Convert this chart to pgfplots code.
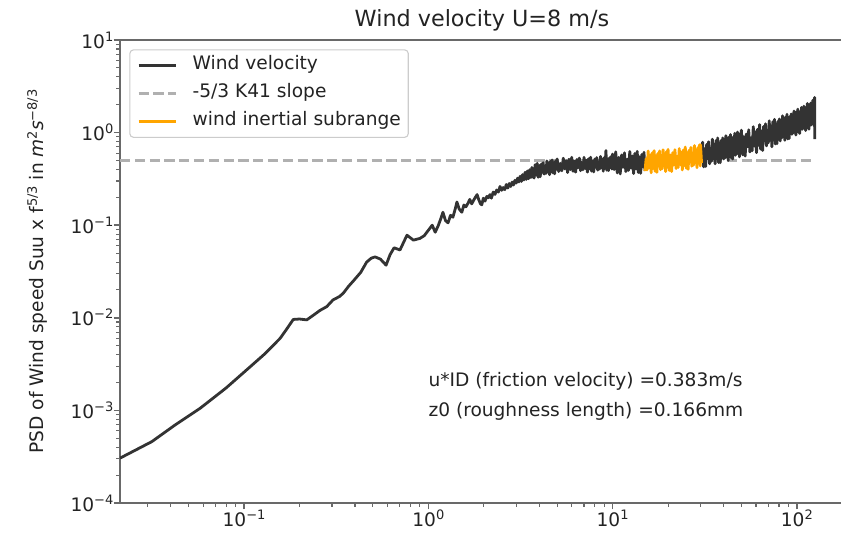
\documentclass[border=0pt]{standalone}
\usepackage{fontspec}
\setmainfont{DejaVu Sans}
\usepackage{pgfplots}
\pgfplotsset{compat=1.18}
\usepackage{pgfplotstable}
\definecolor{txt}{RGB}{35,35,35}
\definecolor{spine}{RGB}{105,105,105}
\definecolor{dataline}{RGB}{51,51,51}
\definecolor{orng}{RGB}{255,165,0}
\definecolor{dashc}{RGB}{176,176,176}
\definecolor{legframe}{RGB}{204,204,204}
\newcommand{\lab}{\fontsize{18.6}{22}\selectfont}
\newcommand{\sups}[1]{\raisebox{7pt}{\fontsize{13}{13}\selectfont #1}}

\pgfplotstableread{
x y
0.02123 3.05e-4
0.0316 4.6e-4
0.042 6.9e-4
0.058 1.06e-3
0.08 1.75e-3
0.108 2.96e-3
0.13 4.1e-3
0.157 6.0e-3
0.17 7.5e-3
0.185 9.6e-3
0.2 9.7e-3
0.219 9.5e-3
0.24 1.08e-2
0.258 1.2e-2
0.281 1.32e-2
0.304 1.56e-2
0.33 1.7e-2
0.346 1.85e-2
0.37 2.2e-2
0.392 2.5e-2
0.43 3.1e-2
0.463 4.0e-2
0.49 4.4e-2
0.514 4.55e-2
0.55 4.3e-2
0.59 3.7e-2
0.62 4.8e-2
0.652 5.7e-2
0.702 5.4e-2
0.766 7.8e-2
0.83 6.9e-2
0.9 7.2e-2
0.95 0.077
1.00 0.088
1.05 0.100
1.09 0.084
1.13 0.098
1.17 0.118
1.20 0.138
1.24 0.112
1.28 0.106
1.32 0.128
1.36 0.122
1.40 0.150
1.43 0.178
1.47 0.150
1.52 0.138
1.56 0.165
1.60 0.158
1.64 0.172
1.68 0.190
1.72 0.170
1.76 0.185
1.80 0.200
1.84 0.214
1.88 0.188
1.92 0.170
1.95 0.166
1.99 0.196
2.03 0.182
2.08 0.205
2.12 0.198
2.16 0.214
2.20 0.196
2.25 0.228
2.30 0.215
2.35 0.240
2.40 0.228
2.45 0.262
2.50 0.238
2.55 0.255
2.60 0.242
2.65 0.275
2.70 0.252
2.75 0.282
2.80 0.262
2.85 0.292
2.90 0.272
2.95 0.305
3.00 0.285
3.05 0.322
3.10 0.293
3.15 0.338
3.20 0.297
3.25 0.352
3.30 0.308
3.35 0.372
3.40 0.312
3.45 0.385
3.50 0.318
3.55 0.398
3.60 0.327
3.65 0.420
3.70 0.339
3.75 0.323
3.80 0.450
3.85 0.347
3.90 0.466
3.95 0.329
4.00 0.441
4.05 0.334
4.10 0.457
4.15 0.373
4.20 0.474
4.25 0.356
4.30 0.435
4.35 0.362
4.40 0.495
4.45 0.376
4.50 0.471
4.55 0.351
4.60 0.489
4.65 0.378
4.70 0.507
4.75 0.366
4.80 0.473
4.85 0.359
4.90 0.492
4.95 0.401
5.0 0.519
5.1 0.380
5.2 0.465
5.3 0.387
5.4 0.529
5.5 0.406
5.6 0.497
5.7 0.370
5.8 0.516
5.9 0.398
6.0 0.541
6.1 0.382
6.2 0.493
6.3 0.374
6.4 0.512
6.5 0.418
6.6 0.531
6.7 0.388
6.8 0.476
6.9 0.396
7.0 0.541
7.1 0.410
7.2 0.503
7.3 0.374
7.4 0.522
7.5 0.405
7.6 0.543
7.7 0.383
7.8 0.495
7.9 0.376
8.0 0.518
8.1 0.423
8.2 0.537
8.3 0.393
8.4 0.481
8.5 0.404
8.6 0.553
8.7 0.420
8.8 0.514
8.9 0.383
9.0 0.535
9.1 0.413
9.2 0.640
9.3 0.392
9.4 0.506
9.5 0.389
9.6 0.533
9.7 0.435
9.8 0.552
9.9 0.404
10.0 0.586
10.2 0.399
10.4 0.619
10.6 0.367
10.8 0.540
11.0 0.358
11.2 0.573
11.4 0.422
11.6 0.605
11.8 0.379
12.0 0.515
12.2 0.391
12.4 0.625
12.6 0.413
12.8 0.559
13.0 0.361
13.2 0.594
13.4 0.404
13.6 0.627
13.8 0.371
14.0 0.549
14.2 0.363
14.4 0.580
14.6 0.428
14.8 0.613
15.0 0.385
}\lowf

\pgfplotstableread{
x y
15.0 0.385
15.2 0.521
15.4 0.396
15.6 0.633
15.8 0.418
16.0 0.572
16.2 0.368
16.4 0.605
16.6 0.411
16.8 0.639
17.0 0.382
17.2 0.563
17.4 0.372
17.6 0.594
17.8 0.439
18.0 0.635
18.2 0.397
18.4 0.538
18.6 0.408
18.8 0.652
19.0 0.436
19.2 0.590
19.4 0.380
19.6 0.624
19.8 0.424
20.0 0.659
20.3 0.390
20.6 0.574
20.9 0.380
21.2 0.607
21.5 0.448
21.8 0.654
22.1 0.409
22.4 0.554
22.7 0.420
23.0 0.672
23.3 0.453
23.6 0.614
23.9 0.395
24.2 0.648
24.5 0.441
24.8 0.699
25.1 0.413
25.4 0.608
25.7 0.402
26.0 0.643
26.3 0.483
26.6 0.692
26.9 0.433
27.2 0.586
27.5 0.445
27.8 0.725
28.1 0.479
28.4 0.649
28.7 0.417
29.0 0.686
29.3 0.475
29.6 0.738
29.9 0.437
30.0 0.738
30.4 0.470
}\inert

\pgfplotstableread{
x y
30.4 0.470
30.8 0.787
31.2 0.426
31.6 0.670
32.0 0.431
32.4 0.746
32.8 0.523
33.2 0.796
33.6 0.460
34.0 0.678
34.4 0.491
34.8 0.849
35.2 0.523
35.6 0.746
36.0 0.460
36.4 0.822
36.8 0.523
37.2 0.876
37.6 0.475
38.0 0.770
38.4 0.474
38.8 0.821
39.2 0.576
39.6 0.876
40.0 0.518
40.4 0.738
40.8 0.535
41.2 0.925
41.6 0.570
42.0 0.837
42.4 0.500
42.8 0.893
43.2 0.569
43.6 0.952
44.0 0.535
44.4 0.840
44.8 0.518
45.2 0.896
45.6 0.628
46.0 0.983
46.4 0.568
46.8 0.810
47.2 0.587
47.6 1.014
48.0 0.643
48.4 0.916
48.8 0.547
49.2 0.977
49.6 0.622
50.0 1.063
50.8 0.576
51.6 0.905
52.4 0.557
53.2 0.965
54.0 0.703
54.8 1.070
55.6 0.618
56.4 0.882
57.2 0.638
58.0 1.159
58.8 0.715
59.6 1.019
60.4 0.608
61.2 1.087
62.0 0.729
62.8 1.221
63.6 0.662
64.4 1.040
65.2 0.641
66.0 1.165
66.8 0.817
67.6 1.243
68.4 0.719
69.2 1.025
70.0 0.774
70.8 1.339
71.6 0.825
72.4 1.177
73.2 0.702
74.0 1.307
74.8 0.832
75.6 1.394
76.4 0.755
77.2 1.187
78.0 0.760
78.8 1.316
79.6 0.923
80.4 1.404
81.2 0.812
82.0 1.212
82.8 0.878
83.6 1.518
84.4 0.936
85.2 1.334
86.0 0.825
86.8 1.475
87.6 0.939
88.4 1.573
89.2 0.853
90.0 1.398
90.8 0.862
91.6 1.491
92.4 1.046
93.2 1.591
94.0 0.959
94.8 1.366
95.6 0.990
96.4 1.711
97.2 1.055
98.0 1.577
98.8 0.941
99.6 1.682
100.4 1.071
101.2 1.794
102.0 1.010
102.8 1.586
103.6 0.977
104.4 1.692
105.2 1.187
106.0 1.872
106.8 1.082
107.6 1.543
108.4 1.117
109.2 1.932
110.0 1.234
110.8 1.759
111.6 1.050
112.4 1.876
113.2 1.195
114.0 2.070
114.8 1.122
115.6 1.763
116.4 1.086
117.2 1.880
118.0 1.371
118.8 2.086
119.6 1.206
120.4 1.719
121.2 1.245
122.0 2.236
122.8 1.379
123.6 1.965
124.4 1.173
124.8 2.400
125.0 0.850
}\highf

\begin{document}
\begin{tikzpicture}
\begin{axis}[
  scale only axis, width=724pt, height=463pt,
  xmode=log, ymode=log,
  xmin=0.02123, xmax=180.2, ymin=1e-4, ymax=10,
  axis line style={draw=spine, line width=1.5pt},
  tick align=outside, tick pos=left,
  major tick length=6.5pt, minor tick length=3.7pt,
  major tick style={draw=spine, line width=1.5pt},
  minor tick style={draw=spine, line width=1.1pt},
  xtick={0.1,1,10,100},
  xticklabels={10\sups{−1},10\sups{0},10\sups{1},10\sups{2}},
  ytick={1e-4,1e-3,1e-2,1e-1,1,10},
  yticklabels={10\sups{−4},10\sups{−3},10\sups{−2},10\sups{−1},10\sups{0},10\sups{1}},
  minor xtick={0.03,0.04,0.05,0.06,0.07,0.08,0.09,0.2,0.3,0.4,0.5,0.6,0.7,0.8,0.9,2,3,4,5,6,7,8,9,20,30,40,50,60,70,80,90},
  minor ytick={2e-4,3e-4,4e-4,5e-4,6e-4,7e-4,8e-4,9e-4,2e-3,3e-3,4e-3,5e-3,6e-3,7e-3,8e-3,9e-3,2e-2,3e-2,4e-2,5e-2,6e-2,7e-2,8e-2,9e-2,0.2,0.3,0.4,0.5,0.6,0.7,0.8,0.9,2,3,4,5,6,7,8,9},
  tick label style={font=\lab, text=txt},
  xticklabel style={inner sep=0pt},
  yticklabel style={inner sep=0pt},
  every axis title/.style={at={(axis description cs:0.5,1.03)}, anchor=base, font=\fontsize{22.3}{26}\selectfont, text=txt},
  title={Wind velocity U=8 m/s},
  every axis y label/.style={at={(axis description cs:-0.114,0.5)}, rotate=90, anchor=center, font=\lab, text=txt},
  ylabel={PSD of Wind speed Suu x f\sups{5/3} in \textit{m}\sups{2}\textit{s}\sups{−8/3}},
  legend cell align=left,
  legend style={at={(axis description cs:0.01285,0.9799)}, anchor=north west,
    draw=legframe, line width=1.1pt, rounded corners=3.7pt, fill=white,
    fill opacity=0.8, text opacity=1, draw opacity=1,
    inner xsep=7.4pt, inner ysep=7pt, row sep=10.5pt, column sep=15.6pt,
    font=\lab, text=txt,
    nodes={inner sep=0pt, text height=13pt, text depth=4.5pt}},
  legend image code/.code={\draw[#1] (0pt,0pt) -- (37pt,0pt);},
]
\addplot[dashc, line width=2.8pt, dash pattern=on 10.3pt off 4.5pt, forget plot] coordinates {(0.02123,0.5) (125,0.5)};
\addplot[dataline, line width=2.8pt, line join=round] table {\lowf};
\addlegendentry{Wind velocity}
\addlegendimage{dashc, line width=2.8pt, dash pattern=on 10.3pt off 4.5pt}
\addlegendentry{-5/3 K41 slope}
\addplot[dataline, line width=2.8pt, line join=round, forget plot] table {\highf};
\addplot[orng, line width=2.8pt, line join=round] table {\inert};
\addlegendentry{wind inertial subrange}
\node[anchor=base west, inner sep=0pt, font=\lab, text=txt] at (axis cs:1.0,1.81e-3) {u*ID (friction velocity) =0.383m/s};
\node[anchor=base west, inner sep=0pt, font=\lab, text=txt] at (axis cs:1.0,8.6e-4) {z0 (roughness length) =0.166mm};
\end{axis}
\pgfresetboundingbox
\path[use as bounding box] ([xshift=-120pt,yshift=-38pt]current axis.south west) rectangle ([xshift=-3pt,yshift=40pt]current axis.north east);
\end{tikzpicture}
\end{document}
